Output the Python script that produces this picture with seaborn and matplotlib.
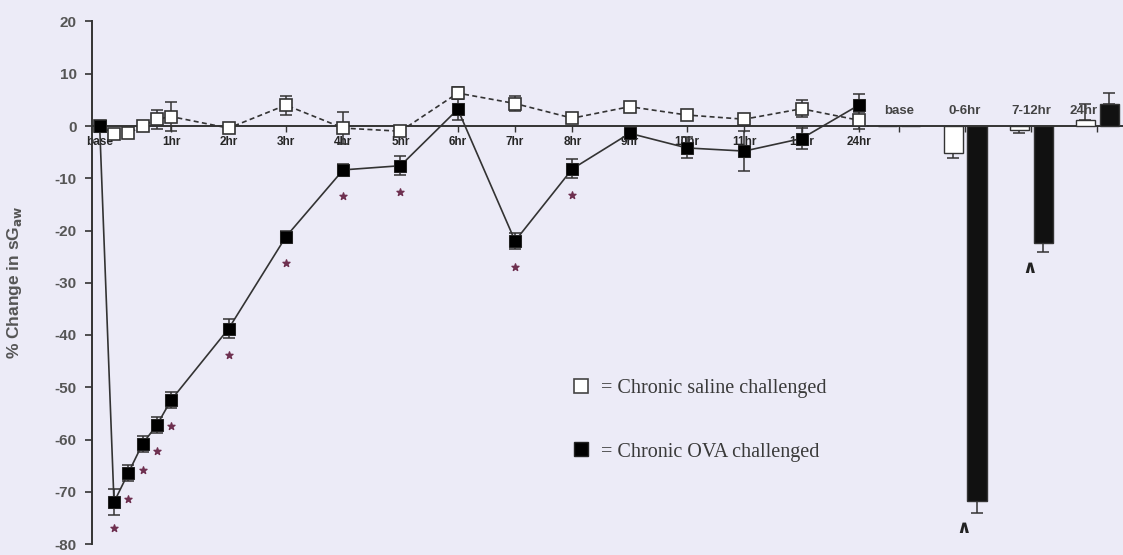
import matplotlib
matplotlib.use("Agg")
import matplotlib.pyplot as plt
from matplotlib.lines import Line2D
import pandas as pd
import seaborn as sns

# ── 數據────────────────────────────────────────────────────────────────
# 時間軸：base 放在 -0.25，24hr 放在第 13 格
TIME_POS = [-0.25, 0, 0.25, 0.5, 0.75, 1, 2, 3, 4, 5, 6, 7, 8, 9, 10, 11, 12, 13]
TICK_POS = [-0.25, 1, 2, 3, 4, 5, 6, 7, 8, 9, 10, 11, 12, 13]
TICK_LABELS = ["base", "1hr", "2hr", "3hr", "4hr", "5hr", "6hr", "7hr",
               "8hr", "9hr", "10hr", "11hr", "12hr", "24hr"]

SALINE = [0, -1.5, -1.4, 0.0, 1.3, 1.8, -0.4, 4.0, -0.4, -1.0, 6.3, 4.3,
          1.5, 3.7, 2.1, 1.3, 3.3, 1.1]
SALINE_ERR = [0, 0.8, 0.8, 0.8, 1.8, 2.8, 0.5, 1.8, 3.1, 0.9, 1.2, 1.4,
              0.8, 0.5, 0.5, 0.5, 1.6, 1.6]
OVA = [0, -72.0, -66.4, -60.8, -57.2, -52.4, -38.8, -21.2, -8.4, -7.6, 3.2,
       -22.0, -8.2, -1.4, -4.2, -4.8, -2.4, 4.0]
OVA_ERR = [0, 2.5, 1.5, 1.5, 1.5, 1.5, 1.8, 1.2, 1.2, 1.8, 2.0, 1.6, 1.8,
           0.8, 2.0, 3.8, 2.0, 2.2]
OVA_SIG = [False, True, True, True, True, True, True, True, True, True,
           False, True, True, False, False, False, False, False]

BAR_GROUPS = ["base", "0-6hr", "7-12hr", "24hr"]
BAR_SALINE = [0, -5.2, -0.8, 1.2]
BAR_SALINE_ERR = [0, 0.9, 0.6, 3.0]
BAR_OVA = [0, -71.8, -22.3, 4.2]
BAR_OVA_ERR = [0, 2.2, 1.9, 2.1]
BAR_SIG = [False, True, True, False]

# ── 樣式 ─────────────────────────────────────────────────────────────────────
BG = "#ECEBF7"
INK = "#333333"
STAR = "#6E3050"

sns.set_style("ticks")
plt.rcParams["font.family"] = ["Liberation Sans", "DejaVu Sans"]
plt.rcParams["axes.unicode_minus"] = False

W, H = 1123, 555
fig = plt.figure(figsize=(W / 100, H / 100), dpi=100, facecolor=BG)
bottom, height = 11 / H, (544 - 21.5) / H

# ── 左側：時間序列 ───────────────────────────────────────────────────────────
ax = fig.add_axes([92 / W, bottom, (868 - 92) / W, height])
ax.set_facecolor("none")

for vals, errs in [(SALINE, SALINE_ERR), (OVA, OVA_ERR)]:
    ax.errorbar(TIME_POS, vals, yerr=errs, fmt="none", ecolor=INK,
                elinewidth=1.1, capsize=4, capthick=1.1, zorder=2)

sns.lineplot(x=TIME_POS, y=SALINE, ax=ax, color=INK, linewidth=1.2,
             linestyle=(0, (3, 2)), marker="s", markersize=8,
             markerfacecolor="white", markeredgecolor=INK,
             markeredgewidth=1.2, zorder=3)
sns.lineplot(x=TIME_POS, y=OVA, ax=ax, color=INK, linewidth=1.2,
             marker="s", markersize=8.5, markerfacecolor="black",
             markeredgecolor="#222222", zorder=4)

sig_x = [t for t, s in zip(TIME_POS, OVA_SIG) if s]
sig_y = [v - 5 for v, s in zip(OVA, OVA_SIG) if s]
ax.scatter(sig_x, sig_y, marker="*", s=28, color=STAR, zorder=5)

ax.set_xlim(-0.384, 13.16)
ax.set_ylim(-80, 20)
ax.set_yticks(range(-80, 21, 10))
ax.set_xticks(TICK_POS)
ax.set_xticklabels(TICK_LABELS)
for lab in ax.get_xticklabels():
    lab.set_color(STAR if lab.get_text() in ("2hr", "7hr", "11hr", "12hr") else "#444444")

ax.spines["bottom"].set_position(("data", 0))
ax.spines["top"].set_visible(False)
ax.spines["right"].set_visible(False)
for sp in ("left", "bottom"):
    ax.spines[sp].set_linewidth(1.4)
    ax.spines[sp].set_color(INK)
ax.tick_params(axis="y", length=5, width=1.2, color=INK, labelsize=11,
               labelcolor="#555555", pad=6)
ax.tick_params(axis="x", length=4, width=1.0, color=INK, labelsize=8.5,
               pad=3)
for lab in ax.get_yticklabels() + ax.get_xticklabels():
    lab.set_fontweight("bold")

ax.set_xlabel("")
ax.set_ylabel("% Change in sG$_{\\mathbf{aw}}$", fontsize=12.5,
              fontweight="bold", color="#555555")
ax.yaxis.set_label_coords(-0.088, 0.5)

handles = [
    Line2D([], [], marker="s", ls="none", ms=10, mfc="white", mec="#444444", mew=1.2),
    Line2D([], [], marker="s", ls="none", ms=10, mfc="black", mec="#222222"),
]
ax.legend(handles, ["= Chronic saline challenged", "= Chronic OVA challenged"],
          loc="upper left", bbox_to_anchor=(7.8, -46.5),
          bbox_transform=ax.transData, frameon=False, borderpad=0,
          handlelength=1.0, handletextpad=0.5, labelspacing=2.2,
          prop={"family": "Liberation Serif", "size": 14.5})
for txt in ax.get_legend().get_texts():
    txt.set_color("#3a3a3a")

# ── 右側：分段長條 ───────────────────────────────────────────────────────────
axb = fig.add_axes([868 / W, bottom, (W - 868) / W, height])
axb.set_facecolor("none")

bars = pd.DataFrame({
    "group": BAR_GROUPS * 2,
    "treatment": ["saline"] * len(BAR_GROUPS) + ["OVA"] * len(BAR_GROUPS),
    "value": BAR_SALINE + BAR_OVA,
})
sns.barplot(data=bars, x="group", y="value", hue="treatment",
            palette={"saline": "white", "OVA": "#111111"},
            width=0.72, gap=0.2, edgecolor=INK, linewidth=1.0,
            errorbar=None, legend=False, ax=axb, zorder=3)

for cont, errs in zip(axb.containers, [BAR_SALINE_ERR, BAR_OVA_ERR]):
    for bar, e in zip(cont, errs):
        h = bar.get_height()
        if e == 0:
            continue
        xc = bar.get_x() + bar.get_width() / 2
        yerr = [[e], [0]] if h < 0 else [[0], [e]]
        axb.errorbar([xc], [h], yerr=yerr, fmt="none", ecolor=INK,
                     elinewidth=1.1, capsize=4, capthick=1.1, zorder=2)

for i, (v, e, s) in enumerate(zip(BAR_OVA, BAR_OVA_ERR, BAR_SIG)):
    if s:
        axb.text(i - 0.02, v - e - 1.5, "\u2227", ha="center", va="top",
                 fontsize=13, fontweight="bold", color="#222222")

for i, lab in enumerate(BAR_GROUPS):
    axb.text(i - (0.2 if lab == "24hr" else 0), 1.8, lab, ha="center",
             va="bottom", fontsize=9.5, fontweight="bold", color="#444444")

axb.set_xlim(-0.47, 3.39)
axb.set_ylim(-80, 20)
axb.set_yticks([])
axb.set_xlabel("")
axb.set_ylabel("")
axb.set_xticks(range(len(BAR_GROUPS)))
axb.set_xticklabels([])
axb.spines["bottom"].set_position(("data", 0))
axb.spines["bottom"].set_linewidth(1.4)
axb.spines["bottom"].set_color(INK)
for sp in ("left", "top", "right"):
    axb.spines[sp].set_visible(False)
axb.tick_params(axis="x", length=4, width=1.0, color=INK)

fig.savefig("out.png", dpi=100, facecolor=BG)
